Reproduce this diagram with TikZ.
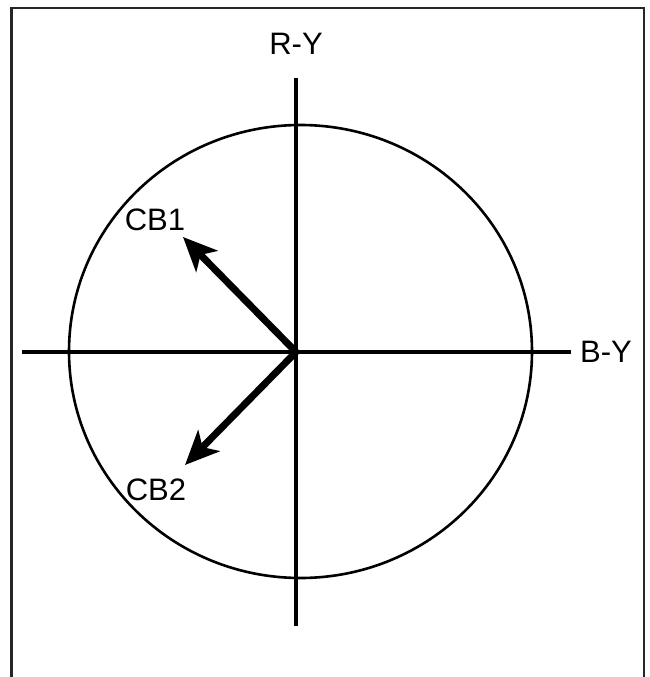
\documentclass[tikz,border=0pt]{standalone}
\usepackage{fontspec}
\setmainfont{Liberation Sans}
\usetikzlibrary{arrows.meta}

\begin{document}
\begin{tikzpicture}[x=1pt, y=-1pt,
  every node/.style={font=\fontsize{31}{35}\selectfont, inner sep=0pt},
  axis/.style={line width=4pt},
  vec/.style={line width=7pt, -{Stealth[length=34pt, width=30pt, inset=9pt]}}]

  \useasboundingbox (0,0) rectangle (649,677);

  %% open frame (no bottom edge)
  \draw[line width=2.4pt, black!85] (11.5,677) -- (11.5,8) -- (644,8) -- (644,677);

  % origin and axis ends
  \coordinate (o) at (296,352);
  \coordinate (xl) at (22,352);
  \coordinate (xr) at (571,352);
  \coordinate (yt) at (296,78);
  \coordinate (yb) at (296,626);

  % circle
  \draw[line width=2.6pt] (300.5,351.5) ellipse[x radius=231.5, y radius=226.5];

  % axes
  \draw[axis] (xl) -- (xr);
  \draw[axis] (yt) -- (yb);
  \node (ry) at (296,44) {R-Y};
  \node[anchor=west] (by) at (580,352) {B-Y};

  % vectors
  \coordinate (cb1tip) at (183,237);
  \coordinate (cb2tip) at (185,465);
  \draw[vec] (o) -- (cb1tip);
  \draw[vec] (o) -- (cb2tip);
  \node (cb1) at (155,220) {CB1};
  \node (cb2) at (156,490) {CB2};
\end{tikzpicture}
\end{document}
